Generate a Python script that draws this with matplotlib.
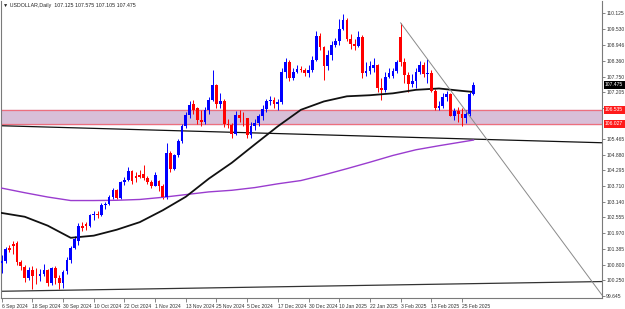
import matplotlib
matplotlib.use('Agg')
import matplotlib.pyplot as plt
import numpy as np

# 일봉 OHLC (6 Sep 2024 ~ 28 Feb 2025)
opens = [100.85, 100.93, 101.42, 101.56, 101.62, 100.90, 100.73, 100.33, 100.62, 100.40,
         100.38, 100.47, 100.60, 100.12, 100.67, 100.31, 100.13, 100.58, 100.98, 101.43,
         101.70, 102.22, 102.30, 102.25, 102.63, 102.70, 102.65, 103.00, 103.05, 103.32,
         103.58, 103.28, 103.85, 103.93, 104.28, 104.10, 104.12, 104.15, 104.02, 103.88,
         103.72, 103.90, 103.70, 103.30, 104.95, 104.35, 104.85, 105.37, 105.95, 106.35,
         106.75, 106.60, 106.15, 106.10, 106.55, 106.90, 107.45, 106.75, 106.88, 106.00,
         105.98, 105.65, 106.35, 106.25, 106.22, 105.62, 105.95, 106.05, 106.30, 106.58,
         106.85, 106.90, 106.75, 106.82, 107.95, 108.30, 107.72, 107.95, 108.05, 108.02,
         107.90, 108.03, 108.40, 109.28, 108.85, 108.15, 108.58, 108.95, 109.08, 109.55,
         109.85, 109.18, 108.98, 108.90, 109.25, 107.90, 107.98, 108.10, 108.20, 107.34,
         107.27, 107.77, 107.80, 107.97, 109.25, 108.30, 107.83, 107.50, 107.62, 107.95,
         108.20, 107.85, 107.90, 107.22, 106.62, 106.68, 107.00, 107.12, 106.32, 106.48,
         106.40, 106.25, 106.38, 107.125]
highs = [101.15, 101.45, 101.55, 101.70, 101.70, 100.98, 100.80, 100.72, 100.75, 100.70,
         100.65, 100.82, 100.65, 100.72, 100.75, 100.42, 100.60, 101.10, 101.50, 101.85,
         102.35, 102.40, 102.38, 102.70, 102.80, 102.78, 103.10, 103.12, 103.40, 103.65,
         103.62, 103.90, 104.05, 104.42, 104.32, 104.25, 104.30, 104.50, 104.10, 103.95,
         104.25, 103.95, 103.80, 105.30, 105.00, 104.90, 105.45, 106.00, 106.45, 106.85,
         106.90, 106.65, 106.55, 106.65, 107.00, 108.00, 107.50, 107.15, 106.95, 106.20,
         106.05, 106.50, 106.55, 106.45, 106.25, 106.10, 106.20, 106.40, 106.70, 106.95,
         107.05, 107.00, 106.95, 108.10, 108.45, 108.40, 108.10, 108.20, 108.15, 108.10,
         108.20, 108.55, 109.45, 109.40, 108.90, 108.75, 109.10, 109.20, 109.90, 110.07,
         109.95, 109.35, 109.15, 109.45, 109.30, 108.30, 108.35, 108.45, 108.25, 107.70,
         107.95, 108.10, 108.10, 108.40, 109.76, 108.45, 107.95, 107.85, 108.10, 108.35,
         108.30, 108.42, 108.00, 107.30, 106.85, 107.15, 107.25, 107.15, 106.60, 106.65,
         106.60, 106.55, 107.20, 107.575]
lows = [100.50, 100.88, 101.28, 101.20, 100.80, 100.62, 100.17, 100.25, 99.90, 100.10,
        100.20, 100.40, 100.00, 100.05, 100.10, 99.91, 99.95, 100.45, 100.85, 101.40,
        101.55, 102.05, 102.10, 102.20, 102.45, 102.55, 102.60, 102.85, 103.00, 103.25,
        103.22, 103.25, 103.75, 103.90, 103.80, 103.85, 104.00, 103.95, 103.80, 103.65,
        103.70, 103.55, 103.25, 103.25, 104.25, 104.30, 104.80, 105.30, 105.85, 106.25,
        106.40, 106.00, 105.95, 106.00, 106.40, 106.85, 106.60, 106.60, 105.90, 105.85,
        105.50, 105.60, 106.10, 105.95, 105.50, 105.50, 105.80, 105.95, 106.15, 106.45,
        106.70, 106.60, 106.55, 106.75, 107.70, 107.60, 107.65, 107.90, 107.95, 107.80,
        107.75, 107.95, 108.35, 108.75, 107.65, 108.00, 108.40, 108.85, 108.95, 109.50,
        109.10, 108.80, 108.75, 108.85, 107.70, 107.80, 107.85, 107.95, 107.20, 106.90,
        107.20, 107.70, 107.70, 107.90, 108.15, 107.55, 107.20, 107.40, 107.35, 107.85,
        107.75, 107.52, 107.20, 106.55, 106.55, 106.60, 106.85, 106.30, 106.15, 106.10,
        105.95, 106.05, 106.30, 107.105]
closes = [100.93, 101.37, 101.36, 101.50, 100.90, 100.74, 100.33, 100.62, 100.40, 100.38,
          100.47, 100.60, 100.12, 100.67, 100.31, 100.13, 100.53, 100.98, 101.43, 101.74,
          102.22, 102.17, 102.22, 102.63, 102.70, 102.65, 103.02, 103.05, 103.32, 103.58,
          103.28, 103.85, 103.93, 104.28, 103.90, 104.02, 104.05, 104.02, 103.88, 103.72,
          104.13, 103.70, 103.30, 104.95, 104.35, 104.85, 105.37, 105.95, 106.35, 106.72,
          106.55, 106.15, 106.10, 106.55, 106.90, 107.45, 106.75, 106.88, 106.00, 105.98,
          105.65, 106.35, 106.25, 106.22, 105.62, 105.95, 106.05, 106.30, 106.58, 106.85,
          106.90, 106.75, 106.82, 107.95, 108.30, 107.72, 107.95, 108.05, 108.02, 107.90,
          108.03, 108.40, 109.28, 108.85, 108.15, 108.58, 108.95, 109.08, 109.55, 109.85,
          109.18, 108.98, 108.90, 109.25, 107.90, 107.98, 108.17, 108.20, 107.34, 107.27,
          107.77, 107.89, 107.97, 108.30, 108.30, 107.83, 107.50, 107.62, 107.95, 108.20,
          107.85, 107.89, 107.22, 106.62, 106.68, 107.00, 107.12, 106.32, 106.48, 106.40,
          106.25, 106.38, 107.13, 107.475]

# 이동평균선 (그림에서 읽은 값, 봉 번호 기준)
ma_bars = [0, 6, 12, 18, 24, 30, 36, 42, 48, 54, 60, 66, 72, 78, 84, 90, 96, 102, 108, 114, 120, 123]
ma_black = [102.72, 102.58, 102.25, 101.80, 101.88, 102.10, 102.38, 102.82, 103.32, 103.99, 104.58,
            105.26, 105.93, 106.54, 106.85, 107.04, 107.08, 107.15, 107.28, 107.33, 107.24, 107.20]
ma_purple = [103.64, 103.47, 103.31, 103.18, 103.18, 103.19, 103.22, 103.30, 103.40, 103.50, 103.56,
             103.66, 103.80, 103.92, 104.13, 104.36, 104.60, 104.85, 105.06, 105.21, 105.35, 105.42]

# 날짜 눈금 (8봉 간격)
date_labels = ["6 Sep 2024", "18 Sep 2024", "30 Sep 2024", "10 Oct 2024", "22 Oct 2024",
               "1 Nov 2024", "13 Nov 2024", "25 Nov 2024", "5 Dec 2024", "17 Dec 2024",
               "30 Dec 2024", "10 Jan 2025", "22 Jan 2025", "3 Feb 2025", "13 Feb 2025",
               "25 Feb 2025"]
price_labels = ["110.125", "109.530", "108.946", "108.360", "107.750", "107.205", "106.620",
                "105.465", "104.880", "104.295", "103.710", "103.140", "102.555",
                "101.970", "101.385", "100.800", "100.250", "99.645"]

# 지지 구간 / 추세선
zone_top, zone_bottom = 106.535, 106.027
long_line = ([-0.2, 156.5], [105.95, 105.32])
bottom_line = ([-0.2, 156.5], [99.82, 100.18])
down_line = ([104, 156.5], [109.76, 99.68])

FONT = ['Liberation Sans Narrow', 'Liberation Sans', 'DejaVu Sans']
FS = 3.6
BULL = '#0000ff'
BEAR = '#ff0000'

fig = plt.figure(figsize=(6.25, 3.09), dpi=100)
fig.patch.set_facecolor('white')
ax = fig.add_axes([1 / 625, 11 / 309, 601 / 625, 297 / 309])
ax.set_xlim(-0.18, 156.5)
ax.set_ylim(99.571, 110.569)

# 구간 박스
ax.axhspan(zone_bottom, zone_top, color='#d8bfd8', zorder=1)
for lvl in (zone_top, zone_bottom):
    ax.axhline(lvl, color='#ec6f7e', lw=0.9, zorder=2)

# 추세선
ax.plot(*long_line, color='#111111', lw=0.9, zorder=2)
ax.plot(*bottom_line, color='#333333', lw=0.9, zorder=2)
ax.plot(*down_line, color='#8a8a8a', lw=0.7, zorder=5)

# 캔들
idx = np.arange(len(closes))
o = np.array(opens)
c = np.array(closes)
colors = [BULL if cc >= oo else BEAR for oo, cc in zip(o, c)]
ax.vlines(idx, lows, highs, colors=colors, lw=0.7, zorder=3)
body = np.maximum(np.abs(c - o), 0.02)
ax.bar(idx, body, bottom=np.minimum(o, c), width=0.72, color=colors, linewidth=0, zorder=4)

# 이동평균
ax.plot(ma_bars, ma_purple, color='#9a3ccf', lw=1.0, zorder=3)
ax.plot(ma_bars, ma_black, color='#111111', lw=1.3, zorder=3)

# 축 스타일
ax.spines['top'].set_visible(False)
for side in ('left', 'right', 'bottom'):
    ax.spines[side].set_color('#7a7a7a')
    ax.spines[side].set_linewidth(0.8)

ax.yaxis.tick_right()
ax.set_yticks([float(v) for v in price_labels])
ax.set_yticklabels(price_labels, fontsize=FS, family=FONT, color='#333333')
ax.tick_params(axis='y', length=2, width=0.5, pad=1, color='#555555')

ax.set_xticks(np.arange(0, 8 * len(date_labels), 8))
ax.set_xticklabels(date_labels, fontsize=FS, family=FONT, color='#333333', ha='left')
ax.tick_params(axis='x', length=3, width=0.5, pad=1, color='#555555')

# 오른쪽 가격 라벨
def price_tag(value, text, bg):
    ax.annotate(text, xy=(1.0, value), xycoords=('axes fraction', 'data'),
                xytext=(2.2, 0), textcoords='offset points', ha='left', va='center',
                fontsize=FS, family=FONT, color='white', zorder=10, annotation_clip=False,
                bbox=dict(boxstyle='square,pad=0.3', fc=bg, ec='none'))

price_tag(zone_top, "106.535", '#ff1a1a')
price_tag(zone_bottom, "106.027", '#ff1a1a')
price_tag(closes[-1], "107.475", '#000000')

# 제목
fig.text(3 / 625, 1 - 6 / 309, "\u25bc USDOLLAR,Daily  107.125 107.575 107.105 107.475",
         fontsize=3.8, family=FONT, color='#222222', va='center', ha='left')

fig.savefig('out.png', dpi=100, facecolor='white')
